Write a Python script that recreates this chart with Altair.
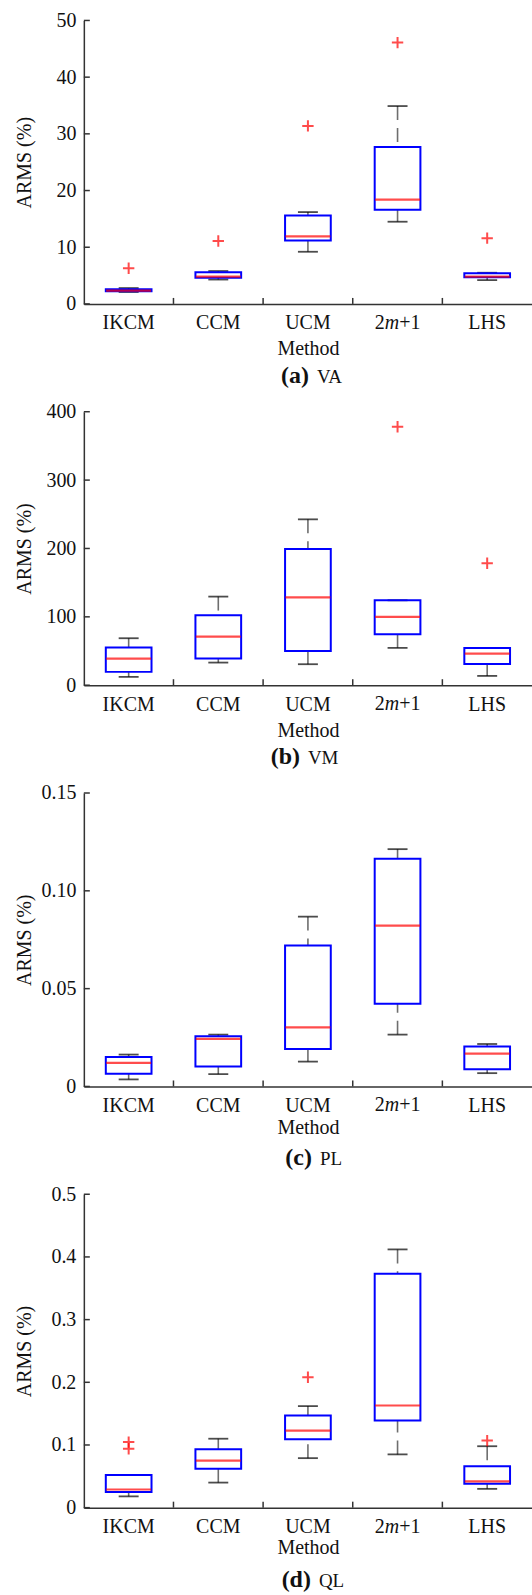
import altair as alt
import pandas as pd

# Sampling methods compared in every panel
METHODS = ["IKCM", "CCM", "UCM", "2m+1", "LHS"]

# (a) VA -- box-plot statistics per method
VA_LOW = [2.1, 4.3, 9.2, 14.5, 4.2]
VA_Q1 = [2.25, 4.6, 11.2, 16.6, 4.7]
VA_MED = [2.35, 4.8, 11.9, 18.4, 4.8]
VA_Q3 = [2.6, 5.6, 15.6, 27.7, 5.4]
VA_HIGH = [2.8, 5.8, 16.2, 34.9, 5.5]
VA_OUT_METHOD = ["IKCM", "CCM", "UCM", "2m+1", "LHS"]
VA_OUT_VALUE = [6.3, 11.1, 31.4, 46.1, 11.6]

# (b) VM
VM_LOW = [12.2, 33.1, 30.7, 54.6, 13.6]
VM_Q1 = [19.5, 39.0, 50.2, 74.5, 31.2]
VM_MED = [39.0, 71.1, 128.6, 99.9, 46.3]
VM_Q3 = [55.0, 102.3, 199.3, 124.2, 54.6]
VM_HIGH = [68.7, 129.6, 242.6, 124.2, 54.6]
VM_OUT_METHOD = ["2m+1", "LHS"]
VM_OUT_VALUE = [378.0, 178.3]

# (c) PL
PL_LOW = [0.0036, 0.0063, 0.0127, 0.0265, 0.0068]
PL_Q1 = [0.0065, 0.0102, 0.0192, 0.0423, 0.0088]
PL_MED = [0.0121, 0.0243, 0.0302, 0.0822, 0.0168]
PL_Q3 = [0.0150, 0.0257, 0.0720, 0.1164, 0.0204]
PL_HIGH = [0.0163, 0.0265, 0.0868, 0.1213, 0.0217]
PL_OUT_METHOD = []
PL_OUT_VALUE = []

# (d) QL
QL_LOW = [0.018, 0.040, 0.079, 0.085, 0.030]
QL_Q1 = [0.025, 0.062, 0.109, 0.139, 0.038]
QL_MED = [0.029, 0.075, 0.123, 0.163, 0.042]
QL_Q3 = [0.052, 0.093, 0.147, 0.373, 0.066]
QL_HIGH = [0.052, 0.110, 0.162, 0.412, 0.098]
QL_OUT_METHOD = ["IKCM", "IKCM", "UCM", "LHS"]
QL_OUT_VALUE = [0.094, 0.1046, 0.208, 0.107]

# y-axis tick values
VA_TICKS = [0, 10, 20, 30, 40, 50]
VM_TICKS = [0, 100, 200, 300, 400]
PL_TICKS = [0, 0.05, 0.10, 0.15]
QL_TICKS = [0, 0.1, 0.2, 0.3, 0.4, 0.5]

FONT = "Liberation Serif"
INK = "#111111"
W = 449
PLUS = "M-1,0L1,0M0,-1L0,1"


def panel(tag, name, low, q1, med, q3, high, out_m, out_v, ticks, fmt,
          height, split, method_y):
    ymax = ticks[-1]
    df = pd.DataFrame({"method": METHODS, "low": low, "q1": q1, "med": med,
                       "q3": q3, "high": high})
    out = pd.DataFrame({"method": out_m, "value": out_v})
    tick_df = pd.DataFrame({"value": ticks})
    sep_df = pd.DataFrame({"method": METHODS[1:]})

    xscale = alt.Scale(domain=METHODS, paddingInner=0, paddingOuter=0)
    xaxis = alt.Axis(labelExpr="datum.label == '2m+1' ? '' : datum.label",
                     labelAngle=0, labelPadding=25, labelBaseline="alphabetic",
                     ticks=False, tickSize=0, titleY=method_y,
                     titleBaseline="alphabetic")
    yscale = alt.Scale(domain=[0, ymax], nice=False, zero=True)
    if fmt == "int":
        lexpr = "format(datum.value, 'd')"
    else:
        lexpr = "datum.value == 0 ? '0' : format(datum.value, '%s')" % fmt
    yaxis = alt.Axis(values=ticks, labelExpr=lexpr, labelPadding=8,
                     ticks=False, tickSize=0, titleX=-53,
                     titleBaseline="alphabetic")

    def X(**kw):
        return alt.X("method:N", sort=METHODS, scale=xscale, axis=xaxis,
                     title="Method", **kw)

    def Y(field):
        return alt.Y(field, type="quantitative", scale=yscale, axis=yaxis,
                     title="ARMS (%)")

    base = alt.Chart(df)
    whisk = dict(color="#6e6e6e", strokeWidth=1.6, strokeDash=[14, 8])
    upper = base.mark_rule(**whisk).encode(x=X(), y=Y("high"), y2="q3")
    lower = base.mark_rule(**whisk).encode(x=X(), y=Y("low"), y2="q1")
    cap_hi = base.mark_tick(size=20, thickness=1.8, color="#000000").encode(
        x=X(), y=Y("high"))
    cap_lo = base.mark_tick(size=20, thickness=1.8, color="#000000").encode(
        x=X(), y=Y("low"))
    box = base.mark_bar(width={"band": 0.51}, fillOpacity=0, stroke="#0000ff",
                        strokeWidth=2).encode(x=X(), y=Y("q1"), y2="q3")
    median = base.mark_tick(size=45, thickness=2.2, color="#ff0000").encode(
        x=X(), y=Y("med"))
    outl = alt.Chart(out).mark_point(shape=PLUS, size=130, filled=False,
                                     stroke="#ff0000", strokeWidth=2).encode(
        x=X(), y=Y("value"))

    # inward axis ticks
    yt = alt.Chart(tick_df).mark_rule(color="#333333", strokeWidth=1.5).encode(
        y=Y("value"), x=alt.value(0), x2=alt.value(6))
    xt = alt.Chart(sep_df).mark_rule(color="#333333", strokeWidth=1.5).encode(
        x=X(bandPosition=0), y=alt.value(height), y2=alt.value(height - 6))

    # "2m+1" tick label with italic m
    lab_df = pd.DataFrame({"method": ["2m+1"]})
    lab_y = alt.value(height + 25)
    lab_kw = dict(font=FONT, fontSize=20, color=INK, baseline="alphabetic")
    p1 = alt.Chart(lab_df).mark_text(text="2", align="right", dx=-12.9,
                                     **lab_kw).encode(x=X(), y=lab_y)
    p2 = alt.Chart(lab_df).mark_text(text="m", align="left", dx=-12.9,
                                     fontStyle="italic", **lab_kw).encode(
        x=X(), y=lab_y)
    p3 = alt.Chart(lab_df).mark_text(text="+1", align="left", dx=1.6,
                                     **lab_kw).encode(x=X(), y=lab_y)

    # panel caption: bold tag + quantity name
    cap_df = pd.DataFrame({"tag": [tag], "name": [name]})
    t1 = alt.Chart(cap_df).mark_text(font=FONT, fontSize=24, fontWeight="bold",
                                     color=INK, align="right",
                                     baseline="alphabetic").encode(
        text="tag:N", x=alt.value(W / 2 + split), y=alt.value(height + 79))
    t2 = alt.Chart(cap_df).mark_text(font=FONT, fontSize=19, color=INK,
                                     align="left", baseline="alphabetic").encode(
        text="name:N", x=alt.value(W / 2 + split + 8), y=alt.value(height + 79))

    return alt.layer(upper, lower, cap_hi, cap_lo, box, median, outl, yt, xt,
                     p1, p2, p3, t1, t2).properties(width=W, height=height)


pa = panel("(a)", "VA", VA_LOW, VA_Q1, VA_MED, VA_Q3, VA_HIGH,
           VA_OUT_METHOD, VA_OUT_VALUE, VA_TICKS, "int", 284, 1, 51)
pb = panel("(b)", "VM", VM_LOW, VM_Q1, VM_MED, VM_Q3, VM_HIGH,
           VM_OUT_METHOD, VM_OUT_VALUE, VM_TICKS, "int", 274, -8, 51)
pc = panel("(c)", "PL", PL_LOW, PL_Q1, PL_MED, PL_Q3, PL_HIGH,
           PL_OUT_METHOD, PL_OUT_VALUE, PL_TICKS, ".2f", 294, 4, 47)
pd_ = panel("(d)", "QL", QL_LOW, QL_Q1, QL_MED, QL_Q3, QL_HIGH,
            QL_OUT_METHOD, QL_OUT_VALUE, QL_TICKS, ".1f", 314, 3, 46)

chart = alt.vconcat(pa, pb, pc, pd_, spacing=14).properties(
    padding={"left": 15, "top": 9, "right": 0, "bottom": 0},
    background="white",
).configure_axis(
    labelFont=FONT, labelFontSize=20, labelColor=INK,
    titleFont=FONT, titleFontSize=20, titleFontWeight="normal", titleColor=INK,
    domainColor="#333333", domainWidth=1.5, grid=False,
).configure_view(strokeWidth=0)

chart.save("out.html", embed_options={"renderer": "svg", "actions": False})
